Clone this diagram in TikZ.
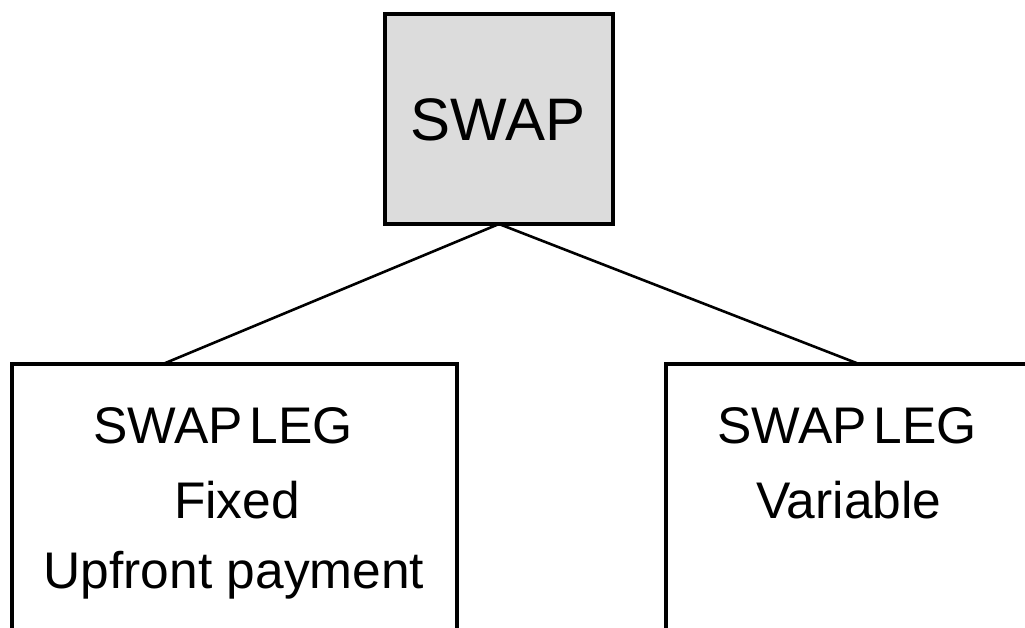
\documentclass[tikz,border=0pt]{standalone}
\usepackage{fontspec}
\setmainfont{Liberation Sans}
\definecolor{boxgray}{RGB}{220,220,220}
\begin{document}
\begin{tikzpicture}[x=1pt,y=-1pt,
  box/.style={draw=black, line width=3.2pt, inner sep=0pt, outer sep=0pt},
  link/.style={draw=black, line width=2.6pt},
  legtext/.style={anchor=base, inner sep=0pt, font=\fontsize{51.5}{75}\selectfont}]
\useasboundingbox (0,0) rectangle (1025,627);
\clip (0,0) rectangle (1025,627);
\fill[white] (0,0) rectangle (1025,627);
% boxes
\node[box, fill=boxgray, minimum width=228pt, minimum height=210pt] (swap) at (499,119) {};
\node[box, fill=white, anchor=north west, minimum width=445pt, minimum height=340pt] (lb) at (12,364) {};
\node[box, fill=white, anchor=north west, minimum width=380pt, minimum height=340pt] (rb) at (666,364) {};
% texts
\node[anchor=base, inner sep=0pt, font=\fontsize{60}{62}\selectfont] (swapt) at (498,140) {SWAP};
\node[legtext] (l1) at (223,443) {SWAP\hspace{0.12em}LEG};
\node[legtext] (l2) at (237,518) {Fixed};
\node[legtext] (l3) at (234,588) {Upfront payment};
\node[legtext] (r1) at (847,443) {SWAP\hspace{0.12em}LEG};
\node[legtext] (r2) at (849,518) {Variable};
% connectors
\coordinate (la) at (163,364);
\coordinate (ra) at (859,364);
\draw[link] (swap.south) -- (la);
\draw[link] (swap.south) -- (ra);
\end{tikzpicture}
\end{document}
